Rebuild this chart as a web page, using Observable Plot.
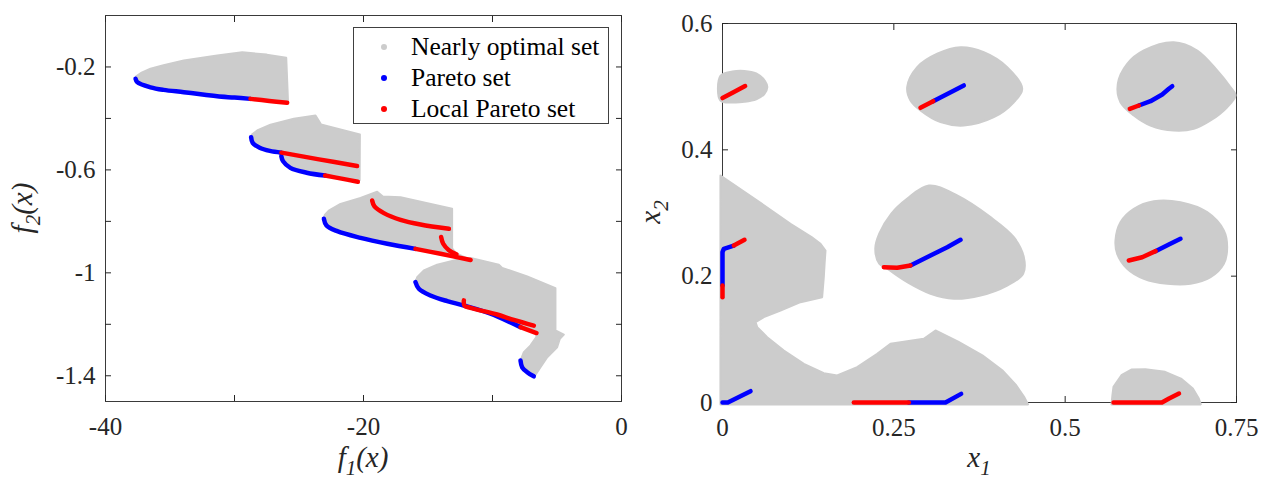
<!DOCTYPE html>
<html>
<head>
<meta charset="utf-8">
<script src="https://cdn.jsdelivr.net/npm/d3@7"></script>
<script src="https://cdn.jsdelivr.net/npm/@observablehq/plot@0.6"></script>
<style>
  body { margin: 0; background: #fff; }
  #wrap { position: relative; width: 1264px; height: 481px; overflow: hidden; font-family: "Liberation Serif", "Times New Roman", serif; }
  #left { position: absolute; left: 0; top: 0; }
  #right { position: absolute; left: 640px; top: 0; }
  #wrap svg, #wrap svg text { font-family: "Liberation Serif", "Times New Roman", serif !important; }
  #legend { position: absolute; left: 353px; top: 27px; width: 256px; height: 97px; box-sizing: border-box; border: 1px solid #404040; background: #fff; }
  .row { position: absolute; left: 0; height: 30px; line-height: 30px; font-size: 25.5px; color: #000; white-space: nowrap; }
  .dot { position: absolute; left: 27px; top: 12px; width: 6px; height: 6px; border-radius: 50%; }
  .lab { position: absolute; left: 57px; top: 0; }
</style>
</head>
<body>
<div id="wrap">
  <div id="left"></div>
  <div id="right"></div>
  <div id="legend"></div>
</div>
<script>
// ---------- Left panel: objective space ----------
const xTicksL = [-40, -30, -20, -10, 0];
const xLabelsL = [-40, -20, 0];
const yTicksL = [-1.4, -1.2, -1, -0.8, -0.6, -0.4, -0.2];
const yLabelsL = [-1.4, -1, -0.6, -0.2];

const nearlyA = [[-37.67,-0.246],[-37.54,-0.259],[-36.51,-0.279],[-35.5,-0.289],[-33.93,-0.298],[-32.33,-0.308],[-31.34,-0.314],[-30.0,-0.319],[-28.76,-0.324],[-27.3,-0.332],[-25.92,-0.339],[-25.85,-0.336],[-25.99,-0.164],[-27.5,-0.152],[-29.40,-0.143],[-31.34,-0.155],[-33.93,-0.175],[-35.5,-0.193],[-36.51,-0.207],[-37.2,-0.222],[-37.62,-0.236]];
const nearlyB = [[-28.71,-0.473],[-28.59,-0.495],[-28.05,-0.514],[-27.26,-0.526],[-26.36,-0.533],[-26.37,-0.546],[-26.24,-0.566],[-25.67,-0.592],[-24.41,-0.611],[-22.98,-0.622],[-21.7,-0.634],[-20.44,-0.646],[-20.3,-0.640],[-20.28,-0.462],[-23.30,-0.423],[-23.72,-0.389],[-25.4,-0.401],[-27.21,-0.424],[-28.24,-0.447],[-28.65,-0.463]];
const nearlyC = [[-23.07,-0.790],[-22.87,-0.816],[-22.04,-0.838],[-20.23,-0.864],[-18.16,-0.887],[-15.97,-0.907],[-14.03,-0.926],[-11.70,-0.950],[-12.8,-0.925],[-13.13,-0.905],[-13.13,-0.751],[-17.13,-0.706],[-18.5,-0.703],[-18.94,-0.685],[-20.23,-0.709],[-21.78,-0.732],[-22.69,-0.758],[-23.0,-0.775]];
const nearlyD = [[-15.97,-1.036],[-15.71,-1.062],[-14.81,-1.088],[-13.51,-1.110],[-12.22,-1.127],[-10.15,-1.159],[-7.83,-1.211],[-6.59,-1.234],[-6.6,-1.25],[-7.05,-1.282],[-7.57,-1.308],[-7.83,-1.341],[-7.70,-1.367],[-7.31,-1.386],[-6.74,-1.402],[-6.28,-1.367],[-5.76,-1.328],[-4.99,-1.289],[-4.78,-1.256],[-4.47,-1.240],[-5.12,-1.224],[-5.12,-1.060],[-7.31,-1.014],[-9.25,-0.981],[-9.51,-0.968],[-11.70,-0.942],[-12.74,-0.949],[-14.29,-0.968],[-15.32,-0.991],[-15.84,-1.017]];

const paretoA = [[-37.67,-0.246],[-37.54,-0.259],[-36.51,-0.279],[-35.5,-0.289],[-33.93,-0.298],[-32.33,-0.308],[-31.34,-0.314],[-30.0,-0.319],[-28.76,-0.324]];
const paretoB1 = [[-28.71,-0.473],[-28.59,-0.495],[-28.05,-0.514],[-27.26,-0.526],[-26.36,-0.533]];
const paretoB2 = [[-26.37,-0.546],[-26.24,-0.566],[-25.67,-0.592],[-24.41,-0.611],[-22.98,-0.622]];
const paretoC = [[-23.07,-0.790],[-22.87,-0.816],[-22.04,-0.838],[-20.23,-0.864],[-18.16,-0.887],[-15.97,-0.907]];
const paretoD1 = [[-15.97,-1.036],[-15.71,-1.062],[-14.81,-1.088],[-13.51,-1.110],[-12.22,-1.127],[-10.15,-1.159],[-7.83,-1.211]];
const paretoD2 = [[-7.83,-1.341],[-7.70,-1.367],[-7.31,-1.386],[-6.80,-1.402]];

const localA = [[-28.76,-0.324],[-27.3,-0.332],[-25.92,-0.339]];
const localB1 = [[-26.36,-0.533],[-23.45,-0.559],[-20.5,-0.585]];
const localB2 = [[-22.98,-0.622],[-21.7,-0.634],[-20.44,-0.646]];
const localC1 = [[-15.97,-0.907],[-14.03,-0.926],[-11.70,-0.950]];
const localC2 = [[-19.33,-0.719],[-19.15,-0.742],[-18.42,-0.768],[-17.13,-0.794],[-15.58,-0.812],[-13.38,-0.829]];
const localC3 = [[-13.98,-0.861],[-13.82,-0.887],[-13.38,-0.912],[-12.8,-0.928]];
const localD1 = [[-7.83,-1.211],[-6.59,-1.234]];
const localD2 = [[-12.22,-1.107],[-12.17,-1.127],[-11.70,-1.136],[-9.64,-1.162],[-8.35,-1.183],[-6.80,-1.205]];

// ---------- Right panel: decision space ----------
const xTicksR = [0, 0.25, 0.5, 0.75];
const yTicksR = [0, 0.2, 0.4, 0.6];

const blobA = [[-0.003,0.517],[0.0145,0.524],[0.0319,0.525],[0.0492,0.521],[0.062,0.509],[0.0654,0.499],[0.0608,0.488],[0.0492,0.480],[0.0319,0.476],[0.0174,0.475],[-0.003,0.478]];
const blobB = [[0.2695,0.4992],[0.2841,0.5309],[0.3133,0.5521],[0.3473,0.5625],[0.3813,0.5546],[0.4154,0.5309],[0.4373,0.4966],[0.4251,0.4754],[0.3959,0.4517],[0.3521,0.4385],[0.3181,0.4438],[0.2889,0.4623],[0.2743,0.4781]];
const blobC = [[0.5768,0.5045],[0.5905,0.5362],[0.6148,0.5573],[0.6585,0.5704],[0.6927,0.5573],[0.7218,0.5256],[0.7412,0.4992],[0.7485,0.4860],[0.7364,0.4675],[0.7121,0.4464],[0.6877,0.4333],[0.6585,0.4306],[0.6245,0.4385],[0.6002,0.4544],[0.5807,0.4754]];
const blobD = [[0.2229,0.2435],[0.2287,0.2672],[0.2461,0.2988],[0.2692,0.3225],[0.3011,0.3435],[0.3424,0.3277],[0.3911,0.2934],[0.4251,0.2617],[0.4397,0.2300],[0.4387,0.2037],[0.4154,0.1852],[0.3765,0.1694],[0.3375,0.1642],[0.3035,0.1721],[0.2695,0.1905],[0.2403,0.2117],[0.2287,0.2198]];
const blobE = [[0.5734,0.2565],[0.5807,0.2854],[0.6002,0.3066],[0.6293,0.3187],[0.6683,0.3171],[0.7072,0.3013],[0.7315,0.2723],[0.7364,0.2459],[0.7315,0.2196],[0.7121,0.1984],[0.6829,0.1879],[0.6489,0.1879],[0.6148,0.1958],[0.5905,0.2117],[0.5759,0.2354]];
const blobF = [[0.5676,-0.003],[0.5690,0.012],[0.5705,0.0248],[0.5821,0.0432],[0.5966,0.0522],[0.6169,0.0527],[0.6458,0.0485],[0.6690,0.0379],[0.6863,0.0221],[0.6950,0.0063],[0.6979,-0.003]];
const blobG = [[-0.003,0.3594],[0.0506,0.3198],[0.0992,0.2829],[0.1300,0.2620],[0.1430,0.2512],[0.1503,0.2406],[0.1490,0.2200],[0.1478,0.1984],[0.1454,0.1667],[0.1138,0.1588],[0.0846,0.1456],[0.0603,0.1351],[0.0482,0.1272],[0.0506,0.1193],[0.0652,0.1034],[0.0895,0.0823],[0.1187,0.0612],[0.1478,0.0464],[0.1673,0.0427],[0.1965,0.0559],[0.2257,0.0770],[0.2451,0.0929],[0.2695,0.0971],[0.2937,0.1008],[0.3108,0.1140],[0.3445,0.0959],[0.3792,0.0748],[0.4082,0.0511],[0.4285,0.0274],[0.4400,0.0090],[0.4458,-0.003],[-0.003,-0.003]];

const paretoRB = [[0.3074,0.477],[0.3521,0.5019]];
const paretoRC = [[0.6075,0.4702],[0.6245,0.4770],[0.6416,0.4876],[0.6513,0.4966],[0.6562,0.5007]];
const paretoRD = [[0.2743,0.2169],[0.3035,0.2327],[0.3279,0.2459],[0.3473,0.2576]];
const paretoRE = [[0.6318,0.2396],[0.6513,0.2501],[0.6683,0.2592]];
const paretoRL1 = [[0,0.1852],[0,0.2380],[0.0019,0.2433],[0.0165,0.2485]];
const paretoRL2 = [[0,0],[0.0078,0],[0.0409,0.0179]];
const paretoRM = [[0.2719,0],[0.3254,0],[0.3482,0.0137]];

const localRA = [[0,0.482],[0.016,0.491],[0.033,0.501]];
const localRB = [[0.2889,0.4665],[0.3074,0.477]];
const localRC = [[0.5943,0.4649],[0.6075,0.4702]];
const localRD = [[0.2354,0.2142],[0.2549,0.2132],[0.2743,0.2169]];
const localRE = [[0.5929,0.2248],[0.6124,0.2300],[0.6318,0.2396]];
const localRF = [[0.5705,0],[0.6412,0],[0.6516,0.0063],[0.6661,0.0142]];
const localRL1a = [[0,0.1667],[0,0.1852]];
const localRL1b = [[0.0165,0.2485],[0.0321,0.2575]];
const localRM = [[0.1916,0],[0.2719,0]];

const legendItems = ["Nearly optimal set", "Pareto set", "Local Pareto set"];
const legendColors = ["#cccccc", "#0000ff", "#ff0000"];

// ---------- helpers ----------
const rows = (groups) => groups.flatMap((g, id) => g.map(([x, y]) => ({x, y, id})));
const fmt = (d) => String(d);
const GRAY = "#cccccc", BLUE = "#0000ff", RED = "#ff0000", INK = "#262626";
const SERIF = '"Liberation Serif", "Times New Roman", serif';

function panel({width, ml, mr, mt, mb, xDomain, yDomain, xTicks, xLabels, yTicks, yLabels, smoothRegions, sharpRegions, pareto, local, lineCurve}) {
  const txt = {fontFamily: SERIF, fontSize: 25};
  const regionStyle = {x: "x", y: "y", z: "id", fill: GRAY, stroke: GRAY, strokeWidth: 2};
  return Plot.plot({
    width, height: 481,
    marginLeft: ml, marginRight: mr, marginTop: mt, marginBottom: mb,
    x: {domain: xDomain},
    y: {domain: yDomain},
    style: `font-family: ${SERIF}; font-size: 25px; color: ${INK}; background: transparent; overflow: visible;`,
    marks: [
      Plot.frame({stroke: "#3a3a3a", strokeWidth: 1}),
      Plot.axisX(xTicks, {anchor: "bottom", tickSize: -6, tickPadding: 22, tickFormat: (d) => xLabels.includes(d) ? fmt(d) : "", label: null, stroke: INK, ...txt}),
      Plot.axisX(xTicks, {anchor: "top", tickSize: -6, tickFormat: () => "", label: null, stroke: INK}),
      Plot.axisY(yTicks, {anchor: "left", tickSize: -6, tickPadding: 16, tickFormat: (d) => yLabels.includes(d) ? fmt(d) : "", label: null, stroke: INK, ...txt}),
      Plot.axisY(yTicks, {anchor: "right", tickSize: -6, tickFormat: () => "", label: null, stroke: INK}),
      Plot.line(rows(smoothRegions), {...regionStyle, curve: "catmull-rom-closed"}),
      Plot.line(rows(sharpRegions), {...regionStyle, curve: "linear-closed"}),
      Plot.line(rows(pareto), {x: "x", y: "y", z: "id", curve: lineCurve, stroke: BLUE, strokeWidth: 4.5, strokeLinecap: "round", strokeLinejoin: "round"}),
      Plot.line(rows(local), {x: "x", y: "y", z: "id", curve: lineCurve, stroke: RED, strokeWidth: 4.5, strokeLinecap: "round", strokeLinejoin: "round"})
    ]
  });
}

function axisLabel(svg, x, y, rotate, main, sub, tail) {
  const t = d3.select(svg).append("text")
    .attr("transform", `translate(${x},${y}) rotate(${rotate})`)
    .attr("text-anchor", "middle")
    .attr("font-family", SERIF)
    .attr("font-style", "italic")
    .attr("font-size", 29)
    .attr("fill", INK);
  t.append("tspan").text(main);
  t.append("tspan").attr("font-size", 21).attr("dy", 8).text(sub);
  if (tail) t.append("tspan").attr("dy", -8).text(tail);
}

const left = panel({
  width: 640, ml: 105, mr: 19, mt: 15, mb: 80,
  xDomain: [-40, 0], yDomain: [-1.5, 0],
  xTicks: xTicksL, xLabels: xLabelsL, yTicks: yTicksL, yLabels: yLabelsL,
  smoothRegions: [], sharpRegions: [nearlyA, nearlyB, nearlyC, nearlyD],
  pareto: [paretoA, paretoB1, paretoB2, paretoC, paretoD1, paretoD2],
  local: [localA, localB1, localB2, localC1, localC2, localC3, localD1, localD2],
  lineCurve: "catmull-rom"
});
axisLabel(left, 363, 467, 0, "f", "1", "(x)");
axisLabel(left, 32, 208, -90, "f", "2", "(x)");
document.getElementById("left").appendChild(left);

const right = panel({
  width: 624, ml: 82, mr: 28, mt: 23, mb: 79,
  xDomain: [0, 0.75], yDomain: [0, 0.6],
  xTicks: xTicksR, xLabels: xTicksR, yTicks: yTicksR, yLabels: yTicksR,
  smoothRegions: [blobA, blobB, blobC, blobD, blobE], sharpRegions: [blobF, blobG],
  pareto: [paretoRB, paretoRC, paretoRD, paretoRE, paretoRL1, paretoRL2, paretoRM],
  local: [localRA, localRB, localRC, localRD, localRE, localRF, localRL1a, localRL1b, localRM],
  lineCurve: "linear"
});
axisLabel(right, 339, 467, 0, "x", "1", "");
axisLabel(right, 20, 212, -90, "x", "2", "");
document.getElementById("right").appendChild(right);

// ---------- Legend ----------
const legend = d3.select("#legend");
const rowTops = [4, 35, 66];
legendItems.forEach((label, i) => {
  const r = legend.append("div").attr("class", "row").style("top", rowTops[i] + "px");
  r.append("div").attr("class", "dot").style("background", legendColors[i]);
  r.append("div").attr("class", "lab").text(label);
});
</script>
</body>
</html>
